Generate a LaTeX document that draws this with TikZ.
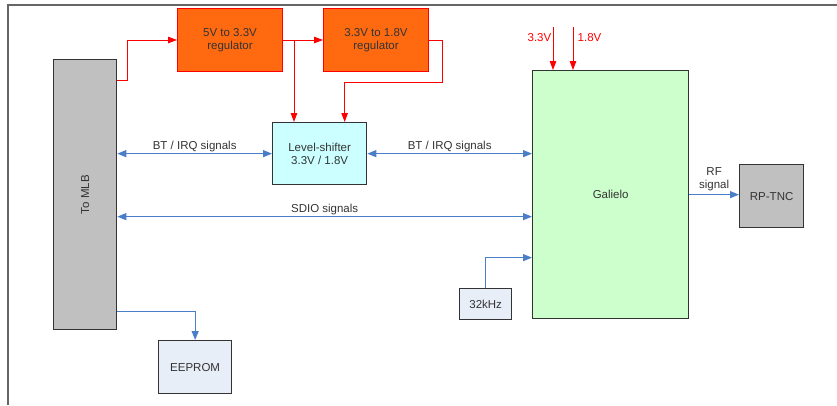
\documentclass[tikz,border=0pt]{standalone}
\usepackage{fontspec}
\setmainfont{Liberation Sans}
\usetikzlibrary{arrows.meta,positioning}
\definecolor{RegOrange}{HTML}{FF6A10}
\definecolor{ShiftCyan}{HTML}{CCFFFF}
\definecolor{ChipGreen}{HTML}{CCFFCC}
\definecolor{PortGray}{HTML}{C0C0C0}
\definecolor{PaleBlue}{HTML}{E8EEF8}
\definecolor{SigBlue}{HTML}{4A7EC8}
\definecolor{TextGray}{HTML}{333333}

\begin{document}
\begin{tikzpicture}[
  x=1pt,y=-1pt,
  box/.style={draw=black!80,line width=1.3pt,anchor=north west,inner sep=0pt,align=center,font=\fontsize{11.5}{13}\selectfont,text=TextGray},
  regbox/.style={box,draw=red,fill=RegOrange,line width=1pt},
  pwr/.style={-{Triangle[length=9pt,width=6.5pt]},red,line width=0.9pt},
  sig/.style={-{Triangle[length=9pt,width=7pt]},SigBlue,line width=1.2pt},
  bisig/.style={{Triangle[length=9pt,width=7pt]}-{Triangle[length=9pt,width=7pt]},SigBlue,line width=1.2pt},
  lbl/.style={font=\fontsize{11.5}{13}\selectfont,text=TextGray,inner sep=1.5pt,align=center}
]
\useasboundingbox (0,0) rectangle (837,405);
\draw[black!60,line width=1.3pt] (8,405) -- (8,5) -- (837,5);
% blocks
\node[box,fill=PortGray,minimum width=63pt,minimum height=270pt] (mlb) at (53,59) {\rotatebox{90}{To MLB}};
\node[regbox,minimum width=105pt,minimum height=63pt] (reg1) at (177,8) {5V to 3.3V\\regulator};
\node[regbox,minimum width=105pt,minimum height=63pt] (reg2) at (323,8) {3.3V to 1.8V\\regulator};
\node[box,fill=ShiftCyan,minimum width=94pt,minimum height=62pt] (shifter) at (272,122) {Level-shifter\\3.3V / 1.8V};
\node[box,fill=ChipGreen,minimum width=156pt,minimum height=248pt] (galielo) at (532,70) {Galielo};
\node[box,fill=PortGray,minimum width=64pt,minimum height=63pt] (rptnc) at (739,164) {RP-TNC};
\node[box,fill=PaleBlue,minimum width=52pt,minimum height=31pt] (osc) at (459,288) {32kHz};
\node[box,fill=PaleBlue,minimum width=73pt,minimum height=53pt] (eeprom) at (158,340) {EEPROM};
% power
\coordinate (tap) at ([xshift=11pt]reg1.east);
\coordinate (lsin) at ([xshift=25pt]shifter.north);
\coordinate (v33) at ([xshift=21pt]galielo.north west);
\coordinate (v18) at ([xshift=41pt]galielo.north west);
\draw[pwr] ([yshift=-21pt]mlb.north east) -- ++(10,0) |- (reg1.west);
\draw[pwr] (reg1.east) -- (reg2.west);
\draw[pwr] (tap) -- (tap |- shifter.north);
\draw[pwr] (reg2.east) -- ++(13,0) -- ++(0,42) -| (lsin);
\draw[pwr] ([yshift=43pt]v33) -- (v33);
\draw[pwr] ([yshift=43pt]v18) -- (v18);
\node[lbl,text=red,left] at ([yshift=32pt]v33) {3.3V};
\node[lbl,text=red,right,xshift=3pt] at ([yshift=32pt]v18) {1.8V};
% signals
\draw[bisig] (mlb.east |- shifter.west) -- node[lbl,above] {BT / IRQ signals} (shifter.west);
\draw[bisig] (shifter.east) -- node[lbl,above] {BT / IRQ signals} (shifter.east -| galielo.west);
\draw[bisig] ([yshift=-22pt]mlb.east) -- node[lbl,above] {SDIO signals} ([yshift=-22pt]mlb.east -| galielo.west);
\draw[sig] (osc.north) |- ([yshift=-63pt]galielo.west);
\draw[sig] ([yshift=19pt]mlb.south east) -| (eeprom.north);
\draw[sig] (galielo.east) -- node[lbl,above,inner sep=3pt] {RF\\signal} (galielo.east -| rptnc.west);
\end{tikzpicture}
\end{document}
